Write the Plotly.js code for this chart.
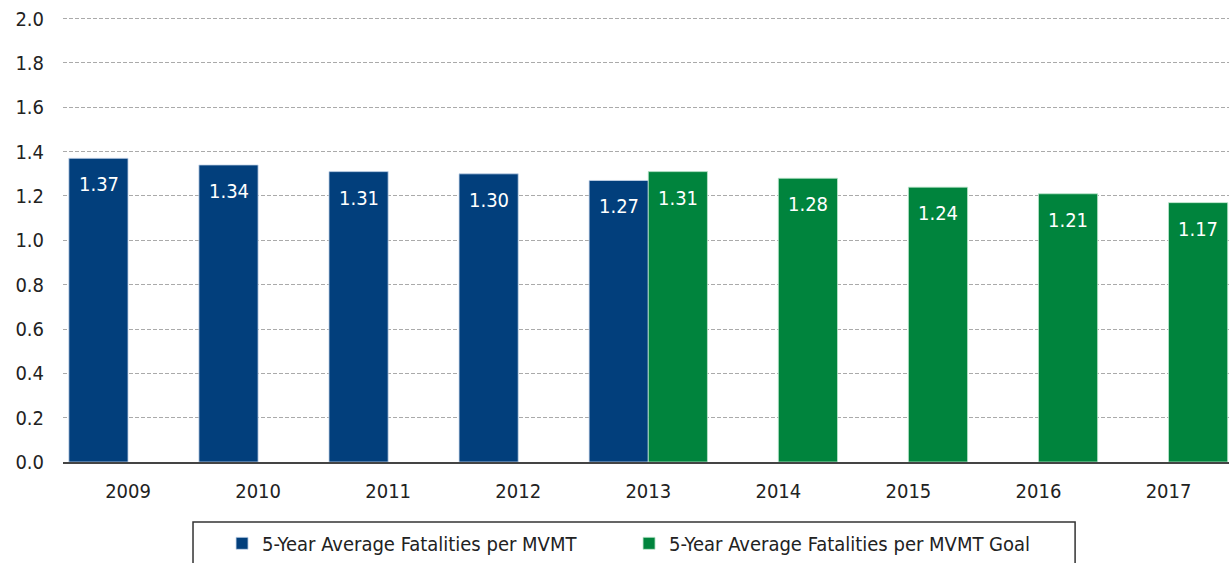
<!DOCTYPE html>
<html>
<head>
<meta charset="utf-8">
<script src="https://cdn.plot.ly/plotly-3.0.1.min.js"></script>
<style>html,body{margin:0;padding:0;background:#fff;}#chart{width:1229px;height:563px;}</style>
</head>
<body>
<div id="chart"></div>
<script>
const categories = ["2009","2010","2011","2012","2013","2014","2015","2016","2017"];
const actualYears = ["2009","2010","2011","2012","2013"];
const actualValues = [1.37, 1.34, 1.31, 1.30, 1.27];
const goalYears = ["2013","2014","2015","2016","2017"];
const goalValues = [1.31, 1.28, 1.24, 1.21, 1.17];
const seriesNames = ["5-Year Average Fatalities per MVMT", "5-Year Average Fatalities per MVMT Goal"];
const yTicks = [0,0.2,0.4,0.6,0.8,1.0,1.2,1.4,1.6,1.8,2.0];

const FONT = "'Liberation Sans Narrow', 'Arial Narrow', 'DejaVu Sans Condensed', sans-serif";
const BLUE = "#023F7C", GREEN = "#00843D";
const FS = 20;

const traces = [
  {type:"bar", name:seriesNames[0], x:actualYears, y:actualValues,
   marker:{color:BLUE, line:{color:"rgba(200,215,235,0.8)", width:1}}, hoverinfo:"x+y"},
  {type:"bar", name:seriesNames[1], x:goalYears, y:goalValues,
   marker:{color:GREEN, line:{color:"rgba(190,230,205,0.8)", width:1}}, hoverinfo:"x+y"}
];

const annotations = [];
actualYears.forEach((c,i)=>annotations.push({x:categories.indexOf(c), y:actualValues[i], xref:"x", yref:"y",
  text:actualValues[i].toFixed(2), showarrow:false, xshift:-29.5, yshift:-26, yanchor:"middle",
  font:{family:FONT, size:FS, color:"#ffffff"}}));
goalYears.forEach((c,i)=>annotations.push({x:categories.indexOf(c), y:goalValues[i], xref:"x", yref:"y",
  text:goalValues[i].toFixed(2), showarrow:false, xshift:29.5, yshift:-26, yanchor:"middle",
  font:{family:FONT, size:FS, color:"#ffffff"}}));

const layout = {
  width:1229, height:563,
  margin:{l:63, r:0, t:14, b:101, autoexpand:false},
  paper_bgcolor:"#ffffff", plot_bgcolor:"#ffffff",
  font:{family:FONT, size:FS, color:"#222222"},
  barmode:"group", bargap:0.09, bargroupgap:0,
  xaxis:{type:"category", categoryorder:"array", categoryarray:categories,
    range:[-0.5, 8.465], showline:true, linecolor:"#444444", linewidth:1.5,
    showgrid:false, ticks:"", ticklabelstandoff:10, tickfont:{family:FONT, size:FS, color:"#222222"}},
  yaxis:{range:[0,2.021], tickvals:yTicks, tickformat:".1f", showgrid:true,
    gridcolor:"#aaaaaa", gridwidth:1, griddash:"4px,2px", zeroline:false, showline:false,
    ticks:"", ticklabelstandoff:18, tickfont:{family:FONT, size:FS, color:"#222222"}},
  showlegend:true,
  legend:{orientation:"h", x:0.1364, xanchor:"left", y:-0.138, yanchor:"top",
    font:{family:FONT, size:FS, color:"#222222"}, bgcolor:"rgba(0,0,0,0)",
    entrywidth:362, entrywidthmode:"pixels", traceorder:"normal"},
  shapes:[{type:"rect", xref:"paper", yref:"paper", x0:0.1115, x1:0.868, y0:-0.134, y1:-0.5,
    line:{color:"#333333", width:1.5}, fillcolor:"rgba(0,0,0,0)", layer:"below"}],
  annotations:annotations
};

Plotly.newPlot("chart", traces, layout, {displayModeBar:false, staticPlot:true});
</script>
</body>
</html>
